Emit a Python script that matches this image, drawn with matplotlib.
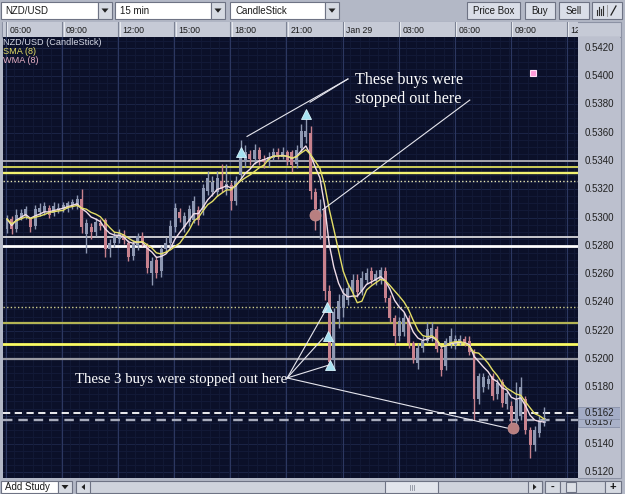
import numpy as np
import pandas as pd
import matplotlib
matplotlib.use("Agg")
import matplotlib.pyplot as plt
from matplotlib.patches import Rectangle, Polygon
from matplotlib.transforms import offset_copy

plt.rcParams['font.family'] = ['Liberation Sans', 'DejaVu Sans']

# ---------------- data (15 min NZD/USD candles, 06:00 Jan 28 -> 10:45 Jan 29) -------------
opens = [0.5292, 0.5299, 0.5292, 0.5300, 0.5301, 0.5299, 0.5294, 0.5304, 0.5304, 0.5307,
         0.5303, 0.5305, 0.5306, 0.5306, 0.5309, 0.5308, 0.5313, 0.5288, 0.5293, 0.5290,
         0.5296, 0.5298, 0.5278, 0.5282, 0.5285, 0.5288, 0.5282, 0.5273, 0.5280, 0.5287,
         0.5279, 0.5261, 0.5270, 0.5262, 0.5278, 0.5282, 0.5293, 0.5304, 0.5293, 0.5297,
         0.5298, 0.5305, 0.5305, 0.5319, 0.5318, 0.5318, 0.5326, 0.5320, 0.5323, 0.5312,
         0.5330, 0.5340, 0.5345, 0.5341, 0.5348, 0.5341, 0.5339, 0.5342, 0.5346, 0.5343,
         0.5346, 0.5346, 0.5338, 0.5349, 0.5357, 0.5360, 0.5318, 0.5300, 0.5305, 0.5248,
         0.5199, 0.5228, 0.5236, 0.5242, 0.5248, 0.5256, 0.5248, 0.5256, 0.5262, 0.5255,
         0.5256, 0.5262, 0.5243, 0.5229, 0.5216, 0.5219, 0.5229, 0.5211, 0.5197, 0.5208,
         0.5213, 0.5216, 0.5221, 0.5207, 0.5195, 0.5211, 0.5210, 0.5212, 0.5214, 0.5213,
         0.5205, 0.5172, 0.5180, 0.5182, 0.5188, 0.5175, 0.5184, 0.5168, 0.5167, 0.5156,
         0.5160, 0.5172, 0.5150, 0.5139, 0.5148, 0.5155]
highs = [0.5302, 0.5301, 0.5306, 0.5306, 0.5308, 0.5300, 0.5309, 0.5310, 0.5311, 0.5309,
         0.5311, 0.5310, 0.5311, 0.5312, 0.5313, 0.5316, 0.5320, 0.5299, 0.5296, 0.5300,
         0.5299, 0.5300, 0.5285, 0.5290, 0.5292, 0.5291, 0.5284, 0.5284, 0.5289, 0.5290,
         0.5282, 0.5272, 0.5273, 0.5280, 0.5286, 0.5298, 0.5310, 0.5307, 0.5304, 0.5309,
         0.5315, 0.5308, 0.5324, 0.5333, 0.5329, 0.5333, 0.5338, 0.5338, 0.5325, 0.5329,
         0.5355, 0.5351, 0.5348, 0.5352, 0.5350, 0.5344, 0.5346, 0.5349, 0.5349, 0.5350,
         0.5348, 0.5348, 0.5351, 0.5366, 0.5370, 0.5365, 0.5321, 0.5313, 0.5308, 0.5252,
         0.5236, 0.5246, 0.5250, 0.5254, 0.5260, 0.5260, 0.5262, 0.5264, 0.5265, 0.5263,
         0.5265, 0.5265, 0.5245, 0.5231, 0.5230, 0.5233, 0.5231, 0.5213, 0.5211, 0.5216,
         0.5226, 0.5226, 0.5223, 0.5209, 0.5215, 0.5222, 0.5217, 0.5217, 0.5216, 0.5216,
         0.5207, 0.5190, 0.5190, 0.5189, 0.5190, 0.5186, 0.5186, 0.5178, 0.5170, 0.5184,
         0.5187, 0.5174, 0.5152, 0.5153, 0.5160, 0.5166]
lows = [0.5289, 0.5288, 0.5290, 0.5298, 0.5299, 0.5290, 0.5292, 0.5301, 0.5302, 0.5300,
        0.5301, 0.5303, 0.5304, 0.5304, 0.5306, 0.5306, 0.5289, 0.5275, 0.5285, 0.5287,
        0.5291, 0.5272, 0.5272, 0.5279, 0.5282, 0.5281, 0.5269, 0.5270, 0.5277, 0.5280,
        0.5261, 0.5252, 0.5257, 0.5258, 0.5275, 0.5279, 0.5290, 0.5297, 0.5290, 0.5294,
        0.5296, 0.5295, 0.5302, 0.5316, 0.5315, 0.5315, 0.5318, 0.5316, 0.5305, 0.5309,
        0.5328, 0.5336, 0.5337, 0.5338, 0.5337, 0.5335, 0.5336, 0.5340, 0.5341, 0.5341,
        0.5337, 0.5332, 0.5335, 0.5346, 0.5353, 0.5313, 0.5291, 0.5285, 0.5242, 0.5193,
        0.5192, 0.5222, 0.5230, 0.5238, 0.5244, 0.5244, 0.5245, 0.5253, 0.5253, 0.5252,
        0.5253, 0.5240, 0.5226, 0.5210, 0.5213, 0.5216, 0.5208, 0.5197, 0.5193, 0.5205,
        0.5211, 0.5213, 0.5205, 0.5188, 0.5192, 0.5208, 0.5207, 0.5210, 0.5209, 0.5203,
        0.5157, 0.5168, 0.5177, 0.5179, 0.5171, 0.5172, 0.5166, 0.5165, 0.5152, 0.5153,
        0.5157, 0.5147, 0.5130, 0.5135, 0.5145, 0.5153]
closes = [0.5299, 0.5292, 0.5302, 0.5303, 0.5306, 0.5293, 0.5306, 0.5307, 0.5308, 0.5302,
          0.5308, 0.5307, 0.5309, 0.5310, 0.5311, 0.5313, 0.5293, 0.5296, 0.5290, 0.5297,
          0.5294, 0.5278, 0.5282, 0.5287, 0.5289, 0.5284, 0.5272, 0.5281, 0.5287, 0.5282,
          0.5264, 0.5269, 0.5261, 0.5278, 0.5282, 0.5294, 0.5307, 0.5300, 0.5301, 0.5306,
          0.5312, 0.5298, 0.5321, 0.5328, 0.5325, 0.5328, 0.5320, 0.5324, 0.5312, 0.5326,
          0.5343, 0.5346, 0.5341, 0.5348, 0.5341, 0.5339, 0.5343, 0.5346, 0.5344, 0.5346,
          0.5340, 0.5337, 0.5348, 0.5361, 0.5361, 0.5319, 0.5306, 0.5306, 0.5248, 0.5198,
          0.5233, 0.5241, 0.5245, 0.5250, 0.5256, 0.5247, 0.5257, 0.5261, 0.5256, 0.5260,
          0.5263, 0.5243, 0.5229, 0.5216, 0.5227, 0.5229, 0.5211, 0.5200, 0.5208, 0.5213,
          0.5221, 0.5222, 0.5207, 0.5192, 0.5213, 0.5216, 0.5214, 0.5214, 0.5211, 0.5205,
          0.5172, 0.5188, 0.5187, 0.5186, 0.5174, 0.5183, 0.5169, 0.5176, 0.5156, 0.5171,
          0.5180, 0.5150, 0.5139, 0.5150, 0.5157, 0.5158]

time_tick_pos = [0, 12, 24, 36, 48, 60, 72, 84, 96, 108, 120]
time_tick_labels = ['06:00', '09:00', '12:00', '15:00', '18:00', '21:00', 'Jan 29',
                    '03:00', '06:00', '09:00', '12:00']
price_ticks = [0.5420, 0.5400, 0.5380, 0.5360, 0.5340, 0.5320, 0.5300, 0.5280, 0.5260,
               0.5240, 0.5220, 0.5200, 0.5180, 0.5160, 0.5140, 0.5120]

# horizontal levels drawn on the chart
level_prices = [0.5340, 0.53357, 0.53314, 0.53258, 0.5286, 0.5280, 0.52365, 0.52257,
                0.52104, 0.5200, 0.5162, 0.5157]
level_colors = ['#a4a4ac', '#dede5a', '#f2f270', '#e6e6b4', '#d8d8dc', '#ffffff', '#cfcf90',
                '#b4b454', '#fafa62', '#9a9aa2', '#ffffff', '#a8acbc']
level_widths = [1.4, 1.3, 1.7, 1.0, 1.3, 2.0, 1.0, 1.6, 2.0, 1.6, 1.3, 1.7]
level_styles = ['-', '-', '-', ':', '-', '-', ':', '-', '-', '-', '--', '--']

# trade markers
buy_idx = [50.1, 64.0, 68.5, 68.7, 69.2]
buy_px = [0.5346, 0.5373, 0.5237, 0.5216, 0.5196]
stop_idx = [66.0, 108.4]
stop_px = [0.5302, 0.5151]
alert_idx = [112.6]
alert_px = [0.5402]

current_prices = [0.5157, 0.5162]

# ---------------- figure ----------------
W, H = 625, 494
fig = plt.figure(figsize=(W / 100, H / 100), dpi=100)
fig.patch.set_facecolor('#b3b8c6')


def px_axes(x0, y0, x1, y1, **kw):
    return fig.add_axes([x0 / W, 1 - y1 / H, (x1 - x0) / W, (y1 - y0) / H], **kw)


ui = px_axes(0, 0, W, H)
ui.set_xlim(0, W)
ui.set_ylim(H, 0)
ui.axis('off')


def box(x0, y0, x1, y1, fc, ec='#6e7384', lw=0.8):
    ui.add_patch(Rectangle((x0, y0), x1 - x0, y1 - y0, fc=fc, ec=ec, lw=lw))


def down_arrow(cx, cy):
    ui.add_patch(Polygon([(cx - 3.5, cy - 2), (cx + 3.5, cy - 2), (cx, cy + 2.2)],
                         closed=True, fc='#202020', ec='none'))


TXT = dict(fontsize=7, color='#1a1a1a', va='center')
# toolbar
box(1, 2, 98, 19, '#ffffff'); ui.text(5, 10.8, 'NZD/USD', **TXT)
box(98, 2, 112, 19, '#d6dae2'); down_arrow(105, 10.5)
box(115, 2, 211, 19, '#ffffff'); ui.text(120, 10.8, '15 min', **TXT)
box(211, 2, 225, 19, '#d6dae2'); down_arrow(218, 10.5)
box(230, 2, 325, 19, '#ffffff'); ui.text(235, 10.8, 'CandleStick', **TXT)
box(325, 2, 339, 19, '#d6dae2'); down_arrow(332, 10.5)
box(467, 2, 520, 19, '#dadee8'); ui.text(493.5, 10.8, 'Price Box', ha='center', fontsize=7, color='#1a1a1a', va='center')
box(525, 2, 555, 19, '#dadee8'); ui.text(540, 10.8, 'Buy', ha='center', fontsize=7, color='#1a1a1a', va='center')
box(559, 2, 589, 19, '#dadee8'); ui.text(574, 10.8, 'Sell', ha='center', fontsize=7, color='#1a1a1a', va='center')
box(592, 2, 622, 19, '#dadee8')
for xx, hh in [(597, 5), (599, 8), (601, 6), (603, 9)]:
    ui.plot([xx, xx], [15, 15 - hh], color='#303030', lw=0.8)
ui.plot([607, 607], [5, 16], color='#909090', lw=0.6)
ui.plot([611, 616], [15, 6], color='#202020', lw=0.9)

# header row and side panels
box(2, 22, 621, 37, '#c6cad6', ec='#8c92a4')
box(578, 37, 621, 478, '#bcc0ce', ec='#8c92a4')

# bottom bar
box(1, 481, 58, 493, '#ffffff'); ui.text(5, 487.3, 'Add Study', **TXT)
box(58, 481, 72, 493, '#d6dae2'); down_arrow(65, 487)
box(76, 481, 542, 493, '#cfd3dc')
box(76, 481, 90, 493, '#d6dae2')
ui.add_patch(Polygon([(85, 484), (85, 490), (81.5, 487)], fc='#202020', ec='none'))
box(528, 481, 542, 493, '#d6dae2')
ui.add_patch(Polygon([(533, 484), (533, 490), (536.5, 487)], fc='#202020', ec='none'))
box(385, 481, 438, 493, '#e2e5ec')
for xx in [409.5, 411.5, 413.5]:
    ui.plot([xx, xx], [484.5, 489.5], color='#8a8f9c', lw=0.6)
box(545, 481, 560, 493, '#d6dae2'); ui.text(552.5, 487, '-', ha='center', va='center', fontsize=8, color='#111', fontweight='bold')
box(560, 481, 605, 493, '#cfd3dc')
box(566, 482, 576, 492, '#dcdfe6')
box(605, 481, 621, 493, '#d6dae2'); ui.text(613, 487, '+', ha='center', va='center', fontsize=8, color='#111', fontweight='bold')

# ---------------- main chart ----------------
X0, X1 = 3, 578
Y0, Y1 = 37, 478
CANDLE_PX = 4.67
FIRST_PX = 7.0
PRICE_TOP_PX = 47.7
PX_PER_PRICE = 14150.0

xlim = ((X0 - FIRST_PX) / CANDLE_PX, (X1 - FIRST_PX) / CANDLE_PX)
ylim = (0.5420 - (Y1 - PRICE_TOP_PX) / PX_PER_PRICE, 0.5420 + (PRICE_TOP_PX - Y0) / PX_PER_PRICE)

ax = px_axes(X0, Y0, X1, Y1)
ax.set_facecolor('#0b1029')
ax.set_xlim(*xlim)
ax.set_ylim(*ylim)
for s in ax.spines.values():
    s.set_visible(False)
ax.set_xticks([])
ax.set_yticks([])

# grid
for p in np.arange(0.5115, 0.5430, 0.0005):
    ax.axhline(p, color='#141b3a', lw=0.6, zorder=0)
for p in price_ticks:
    ax.axhline(p, color='#1b2446', lw=0.7, zorder=0)
n = len(closes)
for i in range(-2, 124, 2):
    ax.axvline(i - 0.5, color='#131a37', lw=0.6, zorder=0)
for pos in time_tick_pos:
    ax.axvline(pos - 0.15, color='#2c3760', lw=0.8, zorder=0)

# levels
for p, c, w, ls in zip(level_prices, level_colors, level_widths, level_styles):
    ax.axhline(p, color=c, lw=w, ls=ls, zorder=2,
               dashes=(1, 1.6) if ls == ':' else ((4, 2.5) if ls == '--' else (None, None)))

# candles
O = np.array(opens); Hh = np.array(highs); L = np.array(lows); C = np.array(closes)
idx = np.arange(n)
up = C >= O
UPC, DNC = '#8e98b2', '#c8828e'
cols = np.where(up, UPC, DNC)
ax.vlines(idx, L, Hh, colors=cols, lw=1.0, zorder=3)
body = np.maximum(np.abs(C - O), 0.00008)
ax.bar(idx, body, bottom=np.minimum(O, C), width=0.64, color=cols, lw=0, zorder=4)

# moving averages
cs = pd.Series(C)
sma = cs.rolling(8, min_periods=1).mean()


def wma_fn(a):
    w = np.arange(1, len(a) + 1)
    return np.dot(a, w) / w.sum()


wma = cs.rolling(8, min_periods=1).apply(wma_fn, raw=True)
ax.plot(idx, wma, color='#f0dce8', lw=1.0, zorder=5)
ax.plot(idx, sma, color='#e4de66', lw=1.0, zorder=5)

# markers
ax.plot(buy_idx, buy_px, ls='none', marker='^', ms=7, mfc='#a6e2f2', mec='#d8f4fc', mew=0.6, zorder=7)
ax.plot(stop_idx, stop_px, ls='none', marker='o', ms=8, mfc='#b87f80', mec='#c89090', mew=0.5, zorder=7)
ax.plot(alert_idx, alert_px, ls='none', marker='s', ms=5, mfc='#ff9ad8', mec='#ffe0f4', mew=0.8, zorder=7)

# annotations
SERIF = ['Liberation Serif', 'DejaVu Serif']
LINE = dict(color='#e6e6ee', lw=0.8, zorder=8)
a1 = (73.0, 0.53979)
for tgt in [(51.4, 0.53573), (64.9, 0.53815)]:
    ax.plot([a1[0], tgt[0]], [a1[1], tgt[1]], **LINE)
a2 = (99.1, 0.53830)
ax.plot([a2[0], 67.6], [a2[1], 0.53055], **LINE)
ax.text(74.6, 0.54028, 'These buys were\nstopped out here', color='white', fontsize=11.6,
        family=SERIF, va='top', ha='left', linespacing=1.25, zorder=9)
a3 = (60.0, 0.51866)
for tgt in [(68.5, 0.52360), (67.7, 0.52148), (69.0, 0.51958), (107.1, 0.51512)]:
    ax.plot([a3[0], tgt[0]], [a3[1], tgt[1]], **LINE)
ax.text(14.6, 0.51852, 'These 3 buys were stopped out here', color='white', fontsize=10.6,
        family=SERIF, va='center', ha='left', zorder=9)

# ---------------- time header ----------------
hdr = px_axes(X0, 22, X1, 37)
hdr.set_xlim(*xlim)
hdr.set_ylim(0, 1)
hdr.set_facecolor('#c6cad6')
for s in hdr.spines.values():
    s.set_visible(False)
hdr.set_xticks([]); hdr.set_yticks([])
tr = offset_copy(hdr.transData, fig=fig, x=3, y=0, units='dots')
for pos, lab in zip(time_tick_pos, time_tick_labels):
    hdr.axvline(pos - 0.15, color='#7c8294', lw=0.8)
    hdr.axvline(pos + 0.1, color='#eef0f4', lw=0.6)
    hdr.text(pos, 0.45, lab, transform=tr, fontsize=6.3, color='#1a1a1a', va='center',
             ha='left', clip_on=True)

# ---------------- price axis ----------------
pax = px_axes(578, Y0, 620, Y1)
pax.set_ylim(*ylim)
pax.set_xlim(0, 1)
pax.set_facecolor('#bcc0ce')
for s in pax.spines.values():
    s.set_visible(False)
pax.set_xticks([]); pax.set_yticks([])
bh = 12 / PX_PER_PRICE
hidden_band = (current_prices[0] - bh, current_prices[1] + bh / 2)
for p in price_ticks:
    if hidden_band[0] < p < hidden_band[1]:
        continue  # covered by the current price boxes
    pax.text(0.5, p, f'{p:.4f}', ha='center', va='center', fontsize=7, color='#202020', clip_on=True)
# lower (bid) box, partly covered by the upper box
p_lo, p_hi = current_prices
pax.add_patch(Rectangle((0, p_lo - 7 / PX_PER_PRICE), 1, bh, fc='#a9b1c8', ec='#8890a8', lw=0.6, zorder=5))
pax.text(0.5, p_lo - 2.5 / PX_PER_PRICE, f'{p_lo:.4f}', ha='center', va='center', fontsize=7,
         color='#202020', zorder=6)
pax.add_patch(Rectangle((0, p_hi - bh / 2), 1, bh, fc='#a3acc6', ec='#8890a8', lw=0.6, zorder=7))
pax.text(0.5, p_hi, f'{p_hi:.4f}', ha='center', va='center', fontsize=7, color='#202020', zorder=8)

# legend labels
fig.text(3 / W, 1 - 42.5 / H, 'NZD/USD (CandleStick)', fontsize=6.6, color='#d6dae6', va='center')
fig.text(3 / W, 1 - 51.5 / H, 'SMA (8)', fontsize=6.6, color='#e4de66', va='center')
fig.text(3 / W, 1 - 60.5 / H, 'WMA (8)', fontsize=6.6, color='#e8b0c4', va='center')

fig.savefig('out.png', dpi=100, facecolor=fig.get_facecolor())
